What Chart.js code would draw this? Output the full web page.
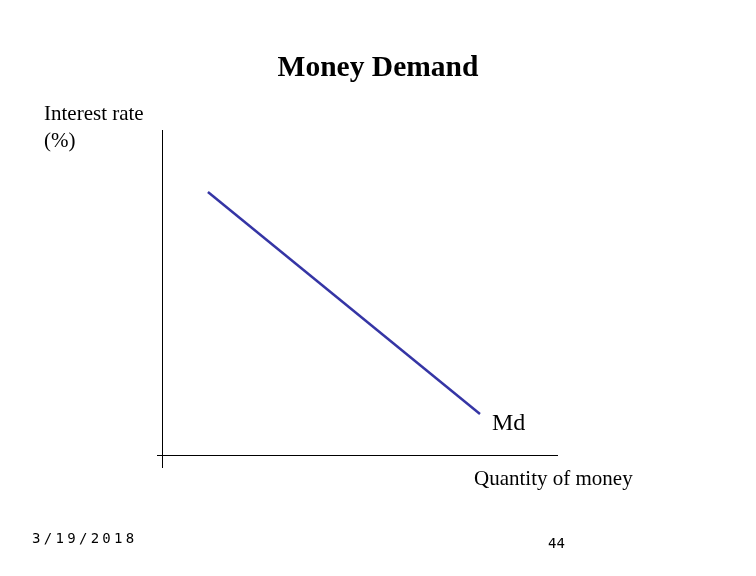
<!DOCTYPE html>
<html>
<head>
<meta charset="utf-8">
<script src="https://cdn.jsdelivr.net/npm/chart.js@4"></script>
<style>
  body { margin: 0; background: #fff; }
  #wrap { position: relative; width: 756px; height: 576px; }
  .t { position: absolute; font-family: "Liberation Serif", serif; color: #000; white-space: nowrap; }
</style>
</head>
<body>
<div id="wrap">
  <canvas id="c" width="756" height="576"></canvas>
  <div class="t" style="left:0;width:756px;text-align:center;top:50px;font-size:29.5px;font-weight:bold;">Money Demand</div>
  <div class="t" style="left:44px;top:100px;font-size:21px;line-height:27px;">Interest rate<br>(%)</div>
  <div class="t" style="left:492px;top:409px;font-size:24px;">Md</div>
  <div class="t" style="left:474px;top:466px;font-size:21px;">Quantity of money</div>
  <div class="t" style="left:32px;top:530px;font-size:14px;letter-spacing:3.3px;font-family:'DejaVu Sans Mono',monospace;">3/19/2018</div>
  <div class="t" style="left:548px;top:535px;font-size:14px;font-family:'DejaVu Sans Mono',monospace;">44</div>
</div>
<script>
const quantity = [11.6, 80.3];
const rate = [80.9, 12.6];

const axesPlugin = {
  id: "axes",
  afterDraw(chart) {
    const { ctx, chartArea: a } = chart;
    ctx.save();
    ctx.strokeStyle = "#000";
    ctx.lineWidth = 1;
    ctx.beginPath();
    ctx.moveTo(a.left + 0.5, a.top);
    ctx.lineTo(a.left + 0.5, a.bottom + 13);
    ctx.moveTo(a.left - 5, a.bottom + 0.5);
    ctx.lineTo(a.right, a.bottom + 0.5);
    ctx.stroke();
    ctx.restore();
  }
};

new Chart(document.getElementById("c").getContext("2d"), {
  type: "scatter",
  data: {
    datasets: [{
      data: quantity.map((q, i) => ({ x: q, y: rate[i] })),
      showLine: true,
      borderColor: "#3535a5",
      borderWidth: 2.5,
      pointRadius: 0
    }]
  },
  options: {
    responsive: false,
    animation: false,
    layout: { padding: { left: 162, right: 198, top: 130, bottom: 121 } },
    plugins: { legend: { display: false }, tooltip: { enabled: false } },
    scales: {
      x: { display: false, min: 0, max: 100 },
      y: { display: false, min: 0, max: 100 }
    }
  },
  plugins: [axesPlugin]
});
</script>
</body>
</html>
